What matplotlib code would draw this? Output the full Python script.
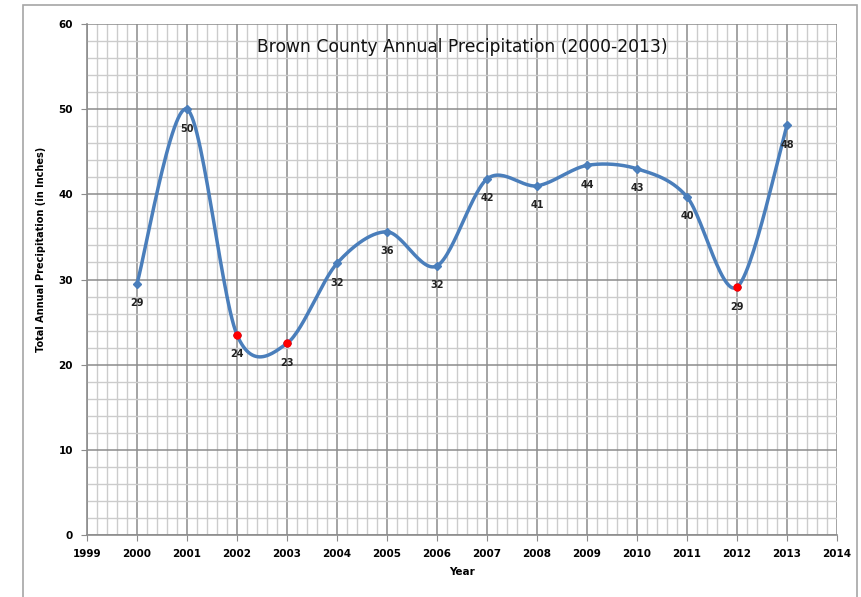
import numpy as np
import matplotlib.pyplot as plt
from matplotlib.patches import Rectangle
from matplotlib.ticker import MultipleLocator

# dados
anos = [2000, 2001, 2002, 2003, 2004, 2005, 2006, 2007, 2008, 2009, 2010, 2011, 2012, 2013]
chuva = [29.5, 50.0, 23.5, 22.5, 31.9, 35.6, 31.6, 41.8, 41.0, 43.4, 43.0, 39.7, 29.1, 48.1]
rotulos = ['29', '50', '24', '23', '32', '36', '32', '42', '41', '44', '43', '40', '29', '48']
anos_secos = [2002, 2003, 2012]

azul = '#4a7ebb'

# curva suavizada (bezier tipo Excel / catmull-rom)
def suaviza(x, y, n=30, k=6.5):
    x = np.asarray(x, float)
    y = np.asarray(y, float)
    px = np.concatenate([[x[0]], x, [x[-1]]])
    py = np.concatenate([[y[0]], y, [y[-1]]])
    xs, ys = [], []
    t = np.linspace(0, 1, n)
    for i in range(1, len(px) - 2):
        p0 = np.array([px[i], py[i]])
        p3 = np.array([px[i + 1], py[i + 1]])
        p1 = p0 + (p3 - np.array([px[i - 1], py[i - 1]])) / k
        p2 = p3 - (np.array([px[i + 2], py[i + 2]]) - p0) / k
        b = ((1 - t) ** 3)[:, None] * p0 + (3 * (1 - t) ** 2 * t)[:, None] * p1 \
            + (3 * (1 - t) * t ** 2)[:, None] * p2 + (t ** 3)[:, None] * p3
        xs.extend(b[:, 0])
        ys.extend(b[:, 1])
    return xs, ys

fig = plt.figure(figsize=(8.61, 5.97), dpi=100)
fig.patches.append(Rectangle((23 / 861, -0.01), 834 / 861, 1.0 - 5 / 597 + 0.01,
                             transform=fig.transFigure, fill=False,
                             edgecolor='#a6a6a6', linewidth=1.2))
ax = fig.add_axes([87 / 861, 62 / 597, 750 / 861, 511 / 597])

cx, cy = suaviza(anos, chuva)
ax.plot(cx, cy, color=azul, linewidth=2.5, solid_capstyle='round', zorder=3)
ax.plot(anos, chuva, linestyle='none', marker='D', markersize=4.5, color=azul, zorder=4)
secos = [chuva[anos.index(a)] for a in anos_secos]
ax.plot(anos_secos, secos, linestyle='none', marker='o', markersize=5, color='#ff0000', zorder=5)

for a, v, r in zip(anos, chuva, rotulos):
    ax.annotate(r, (a, v), xytext=(0, -14), textcoords='offset points',
                ha='center', va='center', fontsize=7, fontweight='bold', color='#222222')

ax.set_xlim(1999, 2014)
ax.set_ylim(0, 60)
ax.xaxis.set_major_locator(MultipleLocator(1))
ax.xaxis.set_minor_locator(MultipleLocator(0.2))
ax.yaxis.set_major_locator(MultipleLocator(10))
ax.yaxis.set_minor_locator(MultipleLocator(2))
ax.grid(which='major', color='#8c8c8c', linewidth=1.1)
ax.grid(which='minor', color='#cccccc', linewidth=1.0)
ax.set_axisbelow(True)
for s in ['top', 'right']:
    ax.spines[s].set_visible(False)
for s in ['left', 'bottom']:
    ax.spines[s].set_color('#8c8c8c')
    ax.spines[s].set_linewidth(1.2)
ax.tick_params(which='major', length=4, color='#8c8c8c', labelsize=7.5, pad=6)
ax.tick_params(which='minor', length=0)
for lb in ax.get_xticklabels() + ax.get_yticklabels():
    lb.set_fontweight('bold')

ax.text(0.5, 0.955, 'Brown County Annual Precipitation (2000-2013)', transform=ax.transAxes,
        ha='center', va='center', fontsize=12.3, color='#111111')
ax.set_xlabel('Year', fontsize=7.5, fontweight='bold', labelpad=6)
ax.set_ylabel('Total Annual Precipitation (in Inches)', fontsize=7, fontweight='bold')
ax.yaxis.set_label_coords(-0.055, 0.558)

fig.savefig('out.png', dpi=100)
